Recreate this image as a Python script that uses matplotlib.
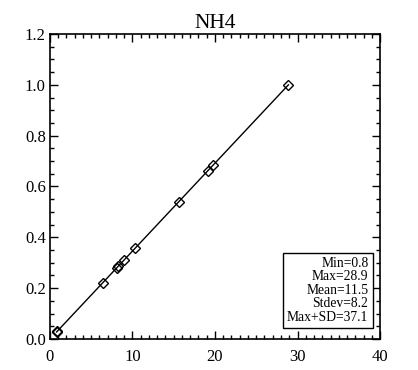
import numpy as np
import matplotlib
matplotlib.use('Agg')
import matplotlib.pyplot as plt
from matplotlib.ticker import MultipleLocator

# dados
conc = [0.8, 0.9, 6.4, 8.1, 8.3, 9.0, 10.3, 15.6, 19.1, 19.8, 28.9]
titulo = 'NH4'
stats_txt = ['Min=0.8', 'Max=28.9', 'Mean=11.5', 'Stdev=8.2', 'Max+SD=37.1']

x = np.sort(np.array(conc))
y = x / x.max()

plt.rcParams['font.family'] = ['Liberation Serif', 'DejaVu Serif']

fig = plt.figure(figsize=(4.18, 3.70), dpi=100)
ax = fig.add_axes([0.1196, 0.0838, 0.7895, 0.8243])

ax.plot(x, y, color='black', lw=1.0, marker='D', markersize=5.5,
        markerfacecolor='none', markeredgecolor='black', markeredgewidth=1.0)

ax.set_xlim(0, 40)
ax.set_ylim(0, 1.2)
ax.xaxis.set_major_locator(MultipleLocator(10))
ax.xaxis.set_minor_locator(MultipleLocator(1))
ax.yaxis.set_major_locator(MultipleLocator(0.2))
ax.yaxis.set_minor_locator(MultipleLocator(0.05))
ax.xaxis.set_major_formatter(plt.FuncFormatter(lambda v, p: '%d' % v))
ax.yaxis.set_major_formatter(plt.FuncFormatter(lambda v, p: '%.1f' % v))

ax.tick_params(which='both', direction='in', top=True, right=True,
               labelsize=12, width=1.0, color='black')
ax.tick_params(which='major', length=6)
ax.tick_params(which='minor', length=3)
ax.tick_params(axis='x', pad=7)
ax.tick_params(axis='y', pad=3)
for s in ax.spines.values():
    s.set_linewidth(1.2)

ax.set_title(titulo, fontsize=15.5, pad=4)

ax.text(0.965, 0.05, '\n'.join(stats_txt), transform=ax.transAxes,
        ha='right', va='bottom', fontsize=9.8, linespacing=1.05,
        bbox=dict(boxstyle='square,pad=0.3', facecolor='white',
                  edgecolor='black', linewidth=1.0))

plt.savefig('out.png', dpi=100)
